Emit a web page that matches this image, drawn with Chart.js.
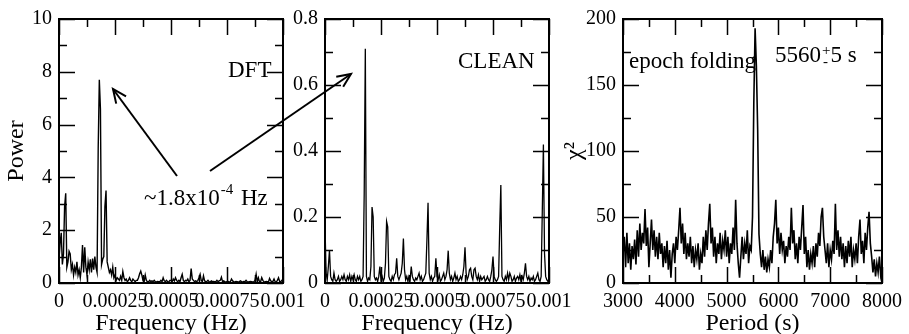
<!DOCTYPE html>
<html>
<head>
<meta charset="utf-8">
<script src="https://cdn.jsdelivr.net/npm/chart.js@4.4.1/dist/chart.umd.min.js"></script>
<style>
  body { margin: 0; background: #fff; }
  .wrap { position: relative; width: 909px; height: 334px; }
  .wrap canvas { position: absolute; left: 0; top: 0; }
</style>
</head>
<body>
<div class="wrap">
  <canvas id="dftChart" width="909" height="334"></canvas>
  <canvas id="cleanChart" width="909" height="334"></canvas>
  <canvas id="foldChart" width="909" height="334"></canvas>
</div>
<script>
// frequency grid of both periodograms (Hz) and period grid of the epoch folding (s)
const freqStepHz = 0.000005;
const periodStart = 3000;
const periodStep = 25;

// DFT power, one value per freqStepHz from 0 to 0.001 Hz
const dftPower = [
  0.9, 1.5, 1.9, 0.7, 1.1, 2.9, 3.4, 0.6, 0.8, 1.2,
  1.1, 0.5, 0.7, 0.3, 0.6, 0.4, 0.8, 0.3, 0.5, 0.2,
  0.6, 1.44, 0.4, 1.35, 0.6, 0.3, 0.8, 0.5, 0.9, 0.4,
  0.93, 0.5, 1.0, 0.6, 0.4, 5.1, 7.7, 6.6, 0.7, 0.9,
  1.0, 2.9, 3.5, 0.8, 0.6, 0.4, 0.5, 0.3, 0.6, 0.2,
  0.3, 0.1, 0.2, 0.15, 0.1, 0.25, 0.1, 0.43, 0.2, 0.1,
  0.15, 0.05, 0.1, 0.2, 0.1, 0.05, 0.15, 0.1, 0.05, 0.1,
  0.1, 0.2, 0.35, 0.45, 0.3, 0.1, 0.05, 0.3, 0.1, 0.05,
  0.05, 0.1, 0.05, 0.08, 0.05, 0.1, 0.05, 0.04, 0.06, 0.05,
  0.05, 0.1, 0.05, 0.2, 0.08, 0.05, 0.1, 0.05, 0.04, 0.1,
  0.1, 0.05, 0.15, 0.08, 0.2, 0.1, 0.05, 0.1, 0.05, 0.2,
  0.33, 0.1, 0.05, 0.1, 0.08, 0.15, 0.05, 0.1, 0.55, 0.15,
  0.1, 0.05, 0.08, 0.05, 0.1, 0.2, 0.33, 0.1, 0.05, 0.27,
  0.08, 0.05, 0.06, 0.1, 0.05, 0.04, 0.08, 0.05, 0.06, 0.05,
  0.05, 0.1, 0.05, 0.08, 0.1, 0.22, 0.05, 0.08, 0.05, 0.04,
  0.05, 0.06, 0.04, 0.05, 0.15, 0.08, 0.05, 0.04, 0.06, 0.05,
  0.04, 0.05, 0.08, 0.05, 0.04, 0.06, 0.05, 0.1, 0.05, 0.04,
  0.05, 0.06, 0.05, 0.04, 0.05, 0.1, 0.33, 0.05, 0.2, 0.05,
  0.05, 0.2, 0.1, 0.05, 0.04, 0.06, 0.05, 0.04, 0.17, 0.08,
  0.05, 0.06, 0.15, 0.05, 0.04, 0.1, 0.2, 0.06, 0.05, 0.1,
  0.05
];

// CLEAN power, same grid
const cleanPower = [
  0.17, 0.03, 0.01, 0.05, 0.1, 0.02, 0.01, 0.005, 0.03, 0.01,
  0.005, 0.01, 0.02, 0.005, 0.01, 0.02, 0.01, 0.025, 0.01, 0.005,
  0.02, 0.01, 0.025, 0.005, 0.02, 0.01, 0.025, 0.01, 0.005, 0.02,
  0.01, 0.02, 0.005, 0.01, 0.02, 0.27, 0.71, 0.02, 0.005, 0.015,
  0.01, 0.05, 0.23, 0.2, 0.02, 0.01, 0.015, 0.005, 0.02, 0.05,
  0.01, 0.02, 0.005, 0.015, 0.06, 0.186, 0.17, 0.02, 0.01, 0.005,
  0.02, 0.01, 0.025, 0.03, 0.075, 0.02, 0.01, 0.02, 0.03, 0.06,
  0.135, 0.04, 0.01, 0.02, 0.005, 0.02, 0.01, 0.05, 0.02, 0.01,
  0.005, 0.015, 0.01, 0.02, 0.03, 0.01, 0.02, 0.005, 0.01, 0.02,
  0.03, 0.13, 0.243, 0.03, 0.01, 0.02, 0.005, 0.015, 0.02, 0.075,
  0.02, 0.01, 0.025, 0.005, 0.01, 0.02, 0.03, 0.01, 0.02, 0.04,
  0.098, 0.03, 0.01, 0.02, 0.005, 0.015, 0.03, 0.01, 0.02, 0.005,
  0.01, 0.02, 0.01, 0.025, 0.05, 0.108, 0.03, 0.01, 0.02, 0.04,
  0.045, 0.02, 0.01, 0.04, 0.045, 0.02, 0.01, 0.025, 0.005, 0.02,
  0.01, 0.015, 0.02, 0.005, 0.01, 0.02, 0.01, 0.005, 0.02, 0.04,
  0.08, 0.02, 0.01, 0.005, 0.01, 0.02, 0.17, 0.297, 0.02, 0.01,
  0.005, 0.02, 0.01, 0.03, 0.01, 0.03, 0.02, 0.005, 0.01, 0.02,
  0.005, 0.015, 0.02, 0.01, 0.025, 0.005, 0.02, 0.01, 0.03, 0.06,
  0.02, 0.01, 0.02, 0.005, 0.015, 0.01, 0.02, 0.005, 0.01, 0.02,
  0.03, 0.01, 0.005, 0.02, 0.216, 0.42, 0.09, 0.02, 0.01, 0.005,
  0.01
];

// epoch folding chi^2, one value per periodStep from 3000 to 8000 s
const foldChi2 = [
  22, 35, 12, 38, 15, 30, 10, 28, 18, 33,
  14, 40, 20, 45, 25, 38, 30, 56, 28, 42,
  12, 30, 48, 25, 40, 20, 35, 18, 38, 22,
  30, 12, 28, 15, 32, 10, 25, 4, 22, 30,
  15, 35, 25, 40, 57, 30, 45, 22, 38, 18,
  30, 20, 35, 15, 28, 12, 25, 18, 30, 10,
  22, 15, 35, 20, 40, 25, 45, 60, 30, 42,
  20, 35, 15, 30, 22, 38, 18, 32, 25, 40,
  20, 35, 15, 30, 22, 42, 25, 63, 30, 15,
  4, 20, 35, 18, 30, 22, 40, 15, 28, 25,
  50, 136, 193, 164, 116, 37, 22, 12, 25, 10,
  20, 8, 18, 12, 25, 15, 35, 45, 63, 30,
  42, 22, 38, 25, 32, 15, 28, 20, 35, 25,
  57, 30, 40, 18, 30, 15, 35, 25, 42, 59,
  22, 35, 12, 25, 10, 22, 15, 28, 12, 30,
  20, 38, 28, 50, 57, 35, 25, 15, 30, 12,
  25, 18, 32, 22, 60, 25, 40, 20, 35, 18,
  30, 12, 28, 15, 32, 20, 35, 12, 25, 18,
  30, 15, 35, 48, 22, 32, 15, 38, 25, 42,
  54, 30, 20, 8, 18, 5, 15, 8, 20, 6,
  12
];

// axis ticks and labels
const freqTicks = [0, 0.00025, 0.0005, 0.00075, 0.001];
const freqTickLabels = ['0', '0.00025', '0.0005', '0.00075', '0.001'];
const dftTicks = [0, 2, 4, 6, 8, 10];
const dftTickLabels = ['0', '2', '4', '6', '8', '10'];
const cleanTicks = [0, 0.2, 0.4, 0.6, 0.8];
const cleanTickLabels = ['0', '0.2', '0.4', '0.6', '0.8'];
const periodTicks = [3000, 4000, 5000, 6000, 7000, 8000];
const periodTickLabels = ['3000', '4000', '5000', '6000', '7000', '8000'];
const chiTicks = [0, 50, 100, 150, 200];
const chiTickLabels = ['0', '50', '100', '150', '200'];

const SERIF = '"Liberation Serif", "Times New Roman", serif';
Chart.defaults.font.family = SERIF;
Chart.defaults.color = '#000';

const tickFont = { size: 20 };
const titleFont = { size: 24, lineHeight: 1 };

// inward major/minor ticks on all four sides plus the frame
const frameTicks = {
  id: 'frameTicks',
  afterDatasetsDraw(chart) {
    const { ctx, chartArea: a, scales } = chart;
    ctx.save();
    ctx.strokeStyle = '#000';
    ctx.lineWidth = 1.5;
    const marks = (scale, horizontal) => {
      const vals = scale.ticks.map((t) => t.value);
      const list = [];
      vals.forEach((v, i) => {
        list.push([v, 16]);
        if (i < vals.length - 1) list.push([(v + vals[i + 1]) / 2, 8]);
      });
      list.forEach(([v, len]) => {
        const p = Math.round(scale.getPixelForValue(v)) + 0.5;
        ctx.beginPath();
        if (horizontal) {
          ctx.moveTo(p, a.bottom); ctx.lineTo(p, a.bottom - len);
          ctx.moveTo(p, a.top); ctx.lineTo(p, a.top + len);
        } else {
          ctx.moveTo(a.left, p); ctx.lineTo(a.left + len, p);
          ctx.moveTo(a.right, p); ctx.lineTo(a.right - len, p);
        }
        ctx.stroke();
      });
    };
    marks(scales.x, true);
    marks(scales.y, false);
    ctx.lineWidth = 2;
    ctx.strokeRect(a.left, a.top, a.right - a.left, a.bottom - a.top);
    ctx.restore();
  }
};

function drawArrow(ctx, x0, y0, x1, y1) {
  ctx.beginPath();
  ctx.moveTo(x0, y0);
  ctx.lineTo(x1, y1);
  ctx.stroke();
  const ang = Math.atan2(y1 - y0, x1 - x0);
  const h = 15, spread = 0.42;
  ctx.beginPath();
  ctx.moveTo(x1 - h * Math.cos(ang - spread), y1 - h * Math.sin(ang - spread));
  ctx.lineTo(x1, y1);
  ctx.lineTo(x1 - h * Math.cos(ang + spread), y1 - h * Math.sin(ang + spread));
  ctx.stroke();
}

// texts and arrows laid over the three panels
const notes = {
  id: 'notes',
  afterDraw(chart) {
    const ctx = chart.ctx;
    ctx.save();
    ctx.fillStyle = '#000';
    ctx.strokeStyle = '#000';
    ctx.textBaseline = 'alphabetic';
    ctx.textAlign = 'left';
    const big = '23px ' + SERIF;
    const small = '15px ' + SERIF;
    ctx.font = big;
    ctx.fillText('DFT', 228, 77);
    ctx.fillText('CLEAN', 458, 68);
    ctx.fillText('epoch folding', 629, 68);

    // ~1.8x10^-4 Hz
    let x = 144;
    ctx.fillText('~1.8x10', x, 205);
    x += ctx.measureText('~1.8x10').width + 1;
    ctx.font = small;
    ctx.fillText('-4', x, 194);
    x += ctx.measureText('-4').width;
    ctx.font = big;
    ctx.fillText(' Hz', x + 2, 205);

    // 5560 +/- 5 s
    x = 775;
    ctx.fillText('5560', x, 62);
    x += ctx.measureText('5560').width + 1;
    ctx.font = small;
    ctx.fillText('+', x, 55);
    ctx.fillText('-', x + 1, 66);
    x += ctx.measureText('+').width;
    ctx.font = big;
    ctx.fillText('5 s', x, 62);

    ctx.lineWidth = 2;
    drawArrow(ctx, 177, 176, 113, 89);
    drawArrow(ctx, 210, 171, 351, 74);
    ctx.restore();
  }
};

function points(values, start, step) {
  return values.map((v, i) => ({ x: start + i * step, y: v }));
}

function axis(ticks, labels, min, max, size, extra) {
  return Object.assign({
    type: 'linear',
    min, max,
    grid: { display: false, drawTicks: false },
    border: { display: false },
    afterBuildTicks: (s) => { s.ticks = ticks.map((v) => ({ value: v })); },
    ticks: {
      autoSkip: false, maxRotation: 0, minRotation: 0,
      font: tickFont, color: '#000', padding: 7,
      callback: (v, i) => labels[i]
    }
  }, extra, {
    afterFit: (s) => { if (s.isHorizontal()) s.height = size; else s.width = size; }
  });
}

function panel(id, data, lineWidth, xAxis, yAxis, padding, plugins) {
  return new Chart(document.getElementById(id), {
    type: 'line',
    data: {
      datasets: [{
        data,
        borderColor: '#000',
        borderWidth: lineWidth,
        pointRadius: 0,
        tension: 0,
        fill: false
      }]
    },
    options: {
      responsive: false,
      animation: false,
      events: [],
      layout: { padding },
      plugins: { legend: { display: false }, tooltip: { enabled: false } },
      scales: { x: xAxis, y: yAxis }
    },
    plugins
  });
}

const xTitle = (text) => ({ display: true, text, color: '#000', font: titleFont, padding: { top: 0, bottom: -2 } });

panel('dftChart', points(dftPower, 0, freqStepHz), 1.4,
  axis(freqTicks, freqTickLabels, 0, 0.001, 51, { title: xTitle('Frequency (Hz)') }),
  axis(dftTicks, dftTickLabels, 0, 10, 59, {
    title: { display: true, text: 'Power', color: '#000', font: titleFont, padding: { top: 5, bottom: 0 } }
  }),
  { left: 0, top: 19, right: 626, bottom: 0 },
  [frameTicks, notes]);

panel('cleanChart', points(cleanPower, 0, freqStepHz), 1.3,
  axis(freqTicks, freqTickLabels, 0, 0.001, 51, { title: xTitle('Frequency (Hz)') }),
  axis(cleanTicks, cleanTickLabels, 0, 0.8, 59, {}),
  { left: 266, top: 19, right: 360, bottom: 0 },
  [frameTicks]);

panel('foldChart', points(foldChi2, periodStart, periodStep), 1.6,
  axis(periodTicks, periodTickLabels, 3000, 8000, 51, { title: xTitle('Period (s)') }),
  axis(chiTicks, chiTickLabels, 0, 200, 60, {
    title: { display: true, text: 'χ²', color: '#000', font: titleFont, padding: { top: 0, bottom: 0 } }
  }),
  { left: 563, top: 19, right: 20, bottom: 0 },
  [frameTicks]);
</script>
</body>
</html>
